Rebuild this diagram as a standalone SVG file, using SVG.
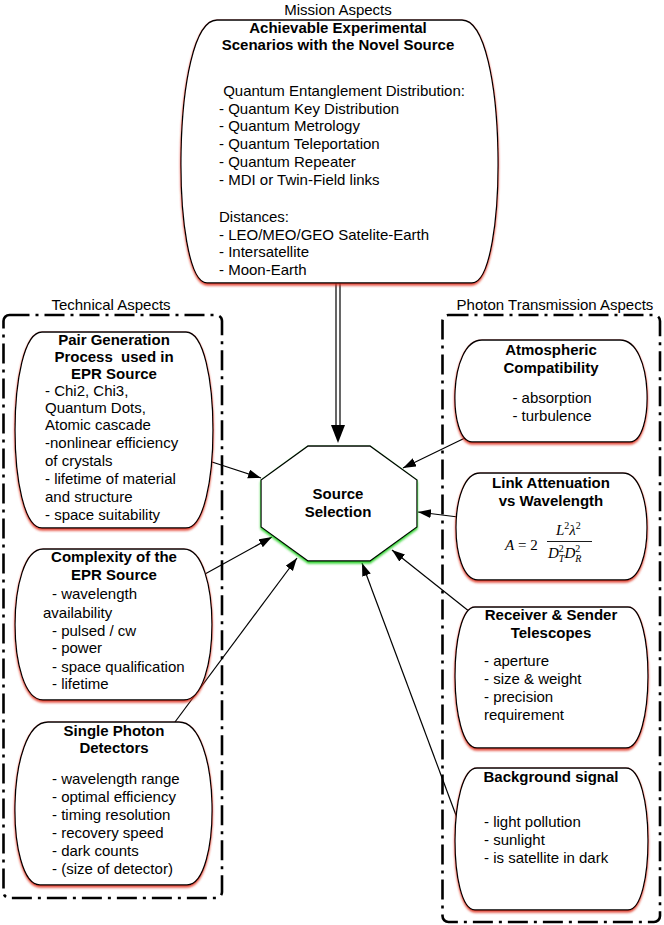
<svg xmlns="http://www.w3.org/2000/svg" width="664" height="925" viewBox="0 0 664 925">
<defs>
<filter id="redglow" x="-10%" y="-10%" width="120%" height="120%">
<feDropShadow dx="0" dy="2" stdDeviation="1.3" flood-color="#e0301e" flood-opacity="0.85"/>
</filter>
<filter id="greenglow" x="-10%" y="-10%" width="120%" height="120%">
<feDropShadow dx="0" dy="2" stdDeviation="1.3" flood-color="#20d020" flood-opacity="0.9"/>
</filter>
<marker id="arr" markerUnits="userSpaceOnUse" markerWidth="14" markerHeight="10" refX="13" refY="4.5" orient="auto">
<path d="M0,0 L13,4.5 L0,9 Z" fill="#000"/>
</marker>
</defs>
<style>
text{font-family:"Liberation Sans",Arial,Helvetica,sans-serif;font-size:15px;fill:#000}
.t{font-weight:bold;text-anchor:middle}
.c{text-anchor:middle}
.shape{fill:#fff;stroke:#000;stroke-width:1.3;filter:url(#redglow)}
.oct{fill:#fff;stroke:#000;stroke-width:1.3;filter:url(#greenglow)}
.grp{fill:none;stroke:#000;stroke-width:2.6;stroke-dasharray:20 6 3 6}
.con{fill:none;stroke:#000;stroke-width:1.2;marker-end:url(#arr)}
.m{font-family:"Liberation Serif","Times New Roman",serif;font-style:italic}
.mr{font-family:"Liberation Serif","Times New Roman",serif}
</style>

<g id="group-technical">
<rect class="grp" x="3.5" y="315" width="218.5" height="583" rx="6"/>
<text class="c" x="111" y="310">Technical Aspects</text>
</g>
<g id="group-photon">
<rect class="grp" x="442.5" y="315" width="217.5" height="607" rx="6"/>
<text class="c" x="555" y="310">Photon Transmission Aspects</text>
</g>

<g id="connectors">
<line x1="336" y1="283" x2="336" y2="426" stroke="#000" stroke-width="1.2"/>
<line x1="340" y1="283" x2="340" y2="426" stroke="#000" stroke-width="1.2"/>
<path d="M331,425 L345,425 L338,443 Z" fill="#000"/>
<line class="con" x1="212" y1="462" x2="261" y2="478"/>
<line class="con" x1="205" y1="574" x2="272" y2="537"/>
<line class="con" x1="175" y1="722" x2="297" y2="558"/>
<line class="con" x1="467" y1="437" x2="403" y2="468"/>
<line class="con" x1="458" y1="517" x2="418" y2="512"/>
<line class="con" x1="470" y1="612" x2="392" y2="550"/>
<line class="con" x1="457" y1="818" x2="362" y2="563"/>
</g>

<g id="node-mission">
<text class="c" x="338" y="15">Mission Aspects</text>
<path class="shape" d="M217,20 H462 C508.3,20 508.3,283 472,283 H207 C170.7,283 170.7,20 217,20 Z"/>
<text class="t" x="338" y="33">Achievable Experimental</text>
<text class="t" x="338" y="50">Scenarios with the Novel Source</text>
<text x="219" y="96" xml:space="preserve"> Quantum Entanglement Distribution:</text>
<text x="219" y="113.5">- Quantum Key Distribution</text>
<text x="219" y="131">- Quantum Metrology</text>
<text x="219" y="149">- Quantum Teleportation</text>
<text x="219" y="167">- Quantum Repeater</text>
<text x="219" y="185">- MDI or Twin-Field links</text>
<text x="219" y="222">Distances:</text>
<text x="219" y="239.5">- LEO/MEO/GEO Satelite-Earth</text>
<text x="219" y="257">- Intersatellite</text>
<text x="219" y="275">- Moon-Earth</text>
</g>

<g id="node-pair">
<path class="shape" d="M42,332 H186 C222,332 222,528 186,528 H42 C6,528 6,332 42,332 Z"/>
<text class="t" x="114" y="345">Pair Generation</text>
<text class="t" x="114" y="362" xml:space="preserve">Process  used in</text>
<text class="t" x="114" y="379">EPR Source</text>
<text x="45" y="396">- Chi2, Chi3,</text>
<text x="45" y="413">Quantum Dots,</text>
<text x="45" y="430">Atomic cascade</text>
<text x="45" y="448">-nonlinear efficiency</text>
<text x="45" y="466">of crystals</text>
<text x="45" y="484">- lifetime of material</text>
<text x="45" y="502">and structure</text>
<text x="45" y="520">- space suitability</text>
</g>

<g id="node-complexity">
<path class="shape" d="M43,549 H184 C221.3,549 221.3,700 184,700 H43 C5.7,700 5.7,549 43,549 Z"/>
<text class="t" x="114" y="562">Complexity of the</text>
<text class="t" x="114" y="580">EPR Source</text>
<text x="52" y="599">- wavelength</text>
<text x="43" y="618">availability</text>
<text x="52" y="636">- pulsed / cw</text>
<text x="52" y="653">- power</text>
<text x="52" y="672">- space qualification</text>
<text x="52" y="689">- lifetime</text>
</g>

<g id="node-detectors">
<path class="shape" d="M48,722 H179 C221.7,722 221.7,885 187,885 H40 C5.3,885 5.3,722 48,722 Z"/>
<text class="t" x="114" y="736">Single Photon</text>
<text class="t" x="114" y="753">Detectors</text>
<text x="52" y="784">- wavelength range</text>
<text x="52" y="802">- optimal efficiency</text>
<text x="52" y="820">- timing resolution</text>
<text x="52" y="838">- recovery speed</text>
<text x="52" y="856">- dark counts</text>
<text x="52" y="874">- (size of detector)</text>
</g>

<g id="node-atmospheric">
<path class="shape" d="M482,340 H620 C654.3,340 654.3,442 630,442 H472 C447.7,442 447.7,340 482,340 Z"/>
<text class="t" x="551" y="355">Atmospheric</text>
<text class="t" x="551" y="373">Compatibility</text>
<text class="c" x="552" y="403">- absorption</text>
<text class="c" x="552" y="421">- turbulence</text>
</g>

<g id="node-link">
<path class="shape" d="M480,473 H623 C654.7,473 654.7,580 625,580 H478 C448.3,580 448.3,473 480,473 Z"/>
<text class="t" x="551" y="488">Link Attenuation</text>
<text class="t" x="551" y="506">vs Wavelength</text>
<text class="m" x="505" y="550">A</text>
<text class="mr" x="518" y="550">= 2</text>
<text class="m" x="556" y="535">L<tspan font-style="normal" font-size="10" dy="-6">2</tspan><tspan dy="6">λ</tspan><tspan font-style="normal" font-size="10" dy="-6">2</tspan></text>
<line x1="547" y1="541.5" x2="592" y2="541.5" stroke="#000" stroke-width="0.9"/>
<text class="m" x="548" y="558">D<tspan font-size="10" dy="-6" font-style="normal">2</tspan><tspan font-size="10" dx="-5" dy="10">T</tspan><tspan dy="-4">D</tspan><tspan font-size="10" dy="-6" font-style="normal">2</tspan><tspan font-size="10" dx="-5" dy="10">R</tspan></text>
</g>

<g id="node-telescopes">
<path class="shape" d="M475,607 H628 C655,607 655,748 626,748 H477 C448,748 448,607 475,607 Z"/>
<text class="t" x="551" y="620">Receiver &amp; Sender</text>
<text class="t" x="551" y="638">Telescopes</text>
<text x="484" y="666">- aperture</text>
<text x="484" y="684">- size &amp; weight</text>
<text x="484" y="702">- precision</text>
<text x="484" y="720">requirement</text>
</g>

<g id="node-background">
<path class="shape" d="M477,768 H626 C655,768 655,910 628,910 H475 C448,910 448,768 477,768 Z"/>
<text class="t" x="551" y="782">Background signal</text>
<text x="484" y="827">- light pollution</text>
<text x="484" y="845">- sunlight</text>
<text x="484" y="863">- is satellite in dark</text>
</g>

<g id="node-source">
<path class="oct" d="M308,446 L370,446 L417,480 L417,527 L370,561 L308,561 L261,527 L261,480 Z"/>
<text class="t" x="338" y="499">Source</text>
<text class="t" x="338" y="517">Selection</text>
</g>
</svg>
